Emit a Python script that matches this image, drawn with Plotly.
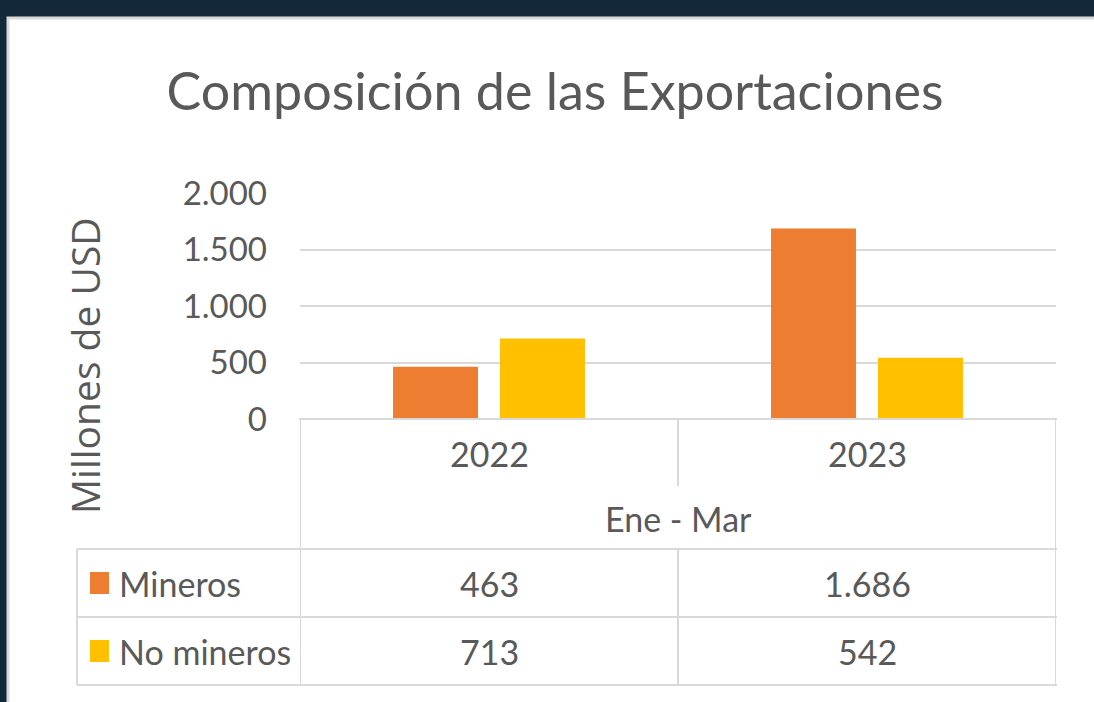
"""Composición de las Exportaciones: barras con tabla de datos debajo."""

import plotly.graph_objects as go

# Data
YEARS = ["2022", "2023"]
PERIOD_LABEL = "Ene - Mar"
SERIES_NAMES = ["Mineros", "No mineros"]
MINEROS = [463, 1686]
NO_MINEROS = [713, 542]
TABLE_TEXT = [["463", "1.686"], ["713", "542"]]
Y_TICKS = [0, 500, 1000, 1500, 2000]
Y_TICK_LABELS = ["0", "500", "1.000", "1.500", "2.000"]

TITLE = "Composición de las Exportaciones"
Y_TITLE = "Millones de USD"

COLORS = ["#ED7D31", "#FFC000"]
TEXT_COLOR = "#595959"
LINE_COLOR = "#D9D9D9"
FRAME_COLOR = "#13293B"
FONT = "Lato"

W, H = 1094, 702


def px(x):
    """Pixel x -> paper fraction."""
    return x / W


def py(y):
    """Pixel y (from top) -> paper fraction."""
    return 1 - y / H


def build_figure() -> go.Figure:
    fig = go.Figure()

    for name, vals, color in zip(SERIES_NAMES, [MINEROS, NO_MINEROS], COLORS):
        fig.add_trace(
            go.Bar(
                x=YEARS,
                y=vals,
                name=name,
                marker=dict(color=color, line=dict(width=0)),
                hoverinfo="x+y+name",
            )
        )

    shapes = []
    # white panel with light border on the dark frame
    shapes.append(dict(
        type="rect", xref="paper", yref="paper",
        x0=px(8), x1=px(1110), y0=py(18), y1=py(720),
        fillcolor="white", line=dict(color=LINE_COLOR, width=3), layer="below",
    ))

    line = dict(color=LINE_COLOR, width=2)
    # data table horizontal lines
    for y in [549, 617, 685]:
        shapes.append(dict(type="line", xref="paper", yref="paper",
                           x0=px(77), x1=px(1057), y0=py(y), y1=py(y), line=line))
    shapes.append(dict(type="line", xref="paper", yref="paper",
                       x0=px(299), x1=px(1057), y0=py(419), y1=py(419), line=line))
    # vertical lines at category edges
    for x0, ya, yb in [(-0.5, 419, 685), (1.5, 419, 685), (0.5, 419, 486), (0.5, 549, 685)]:
        shapes.append(dict(type="line", xref="x", yref="paper",
                           x0=x0, x1=x0, y0=py(ya), y1=py(yb), line=line))
    shapes.append(dict(type="line", xref="paper", yref="paper",
                       x0=px(77), x1=px(77), y0=py(549), y1=py(685), line=line))

    # legend keys in the table
    for color, yc in zip(COLORS, [583, 651]):
        shapes.append(dict(type="rect", xref="paper", yref="paper",
                           x0=px(90), x1=px(109), y0=py(yc - 11), y1=py(yc + 11),
                           fillcolor=color, line=dict(width=0)))

    cell_font = dict(family=FONT, size=34, color=TEXT_COLOR)
    mid = dict(showarrow=False, xanchor="center", yanchor="middle", font=cell_font)
    ann = []
    # category labels
    for i, yr in enumerate(YEARS):
        ann.append(dict(x=i, y=py(453), xref="x", yref="paper", text=yr, **mid))
    ann.append(dict(x=0.5, y=py(518), xref="x", yref="paper", text=PERIOD_LABEL, **mid))
    # table rows
    for name, row, yc in zip(SERIES_NAMES, TABLE_TEXT, [583, 651]):
        ann.append(dict(x=px(117), y=py(yc), xref="paper", yref="paper", text=name,
                        showarrow=False, xanchor="left", yanchor="middle", font=cell_font))
        for i, txt in enumerate(row):
            ann.append(dict(x=i, y=py(yc), xref="x", yref="paper", text=txt, **mid))
    # y axis title
    ann.append(dict(x=px(84), y=py(366), xref="paper", yref="paper", text=Y_TITLE,
                    textangle=-90, showarrow=False, xanchor="center", yanchor="middle",
                    font=dict(family="Open Sans", size=39, color=TEXT_COLOR)))

    fig.update_layout(
        width=W,
        height=H,
        autosize=False,
        margin=dict(l=0, r=0, t=0, b=0, pad=0, autoexpand=False),
        paper_bgcolor=FRAME_COLOR,
        plot_bgcolor="rgba(0,0,0,0)",
        barmode="group",
        bargap=0.434,
        bargroupgap=0.206,
        showlegend=False,
        title=dict(
            text=TITLE, x=px(555), y=py(92), xanchor="center", yanchor="middle",
            font=dict(family=FONT, size=52, color=TEXT_COLOR),
        ),
        xaxis=dict(
            type="category",
            domain=[px(300), px(1056)],
            range=[-0.5, 1.5],
            showticklabels=False,
            showgrid=False,
            zeroline=False,
            fixedrange=True,
        ),
        yaxis=dict(
            domain=[py(419), py(193)],
            range=[0, 2000],
            tickvals=Y_TICKS,
            ticktext=Y_TICK_LABELS,
            tickfont=dict(family=FONT, size=33, color=TEXT_COLOR),
            ticklabelstandoff=32,
            showgrid=True,
            gridcolor=LINE_COLOR,
            gridwidth=1.5,
            zeroline=False,
            fixedrange=True,
        ),
        shapes=shapes,
        annotations=ann,
    )
    return fig


fig = build_figure()
fig.write_html(
    "out.html",
    config={"displayModeBar": False},
    post_script="document.body.style.margin='0';document.body.style.overflow='hidden';",
)
